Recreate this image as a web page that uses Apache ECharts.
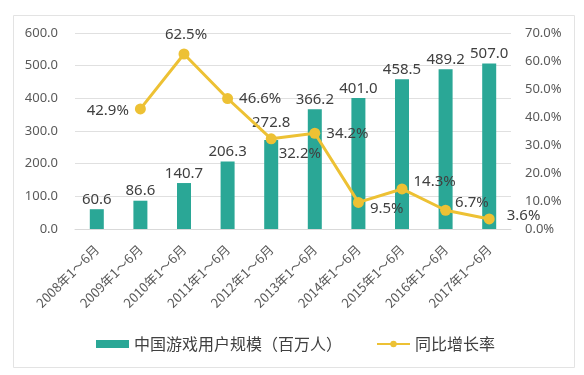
<!DOCTYPE html>
<html>
<head>
<meta charset="utf-8">
<script src="https://cdn.jsdelivr.net/npm/echarts@6/dist/echarts.min.js"></script>
<style>
html,body{margin:0;padding:0;background:#fff;}
#c{width:584px;height:375px;}
</style>
</head>
<body>
<div id="c"></div>
<script>
var categories = ['2008年1～6月','2009年1～6月','2010年1～6月','2011年1～6月','2012年1～6月','2013年1～6月','2014年1～6月','2015年1～6月','2016年1～6月','2017年1～6月'];
var users = [60.6, 86.6, 140.7, 206.3, 272.8, 366.2, 401.0, 458.5, 489.2, 507.0];
var growth = [null, 42.9, 62.5, 46.6, 32.2, 34.2, 9.5, 14.3, 6.7, 3.6];
var leftTicks = [0, 600, 100];
var rightTicks = [0, 70, 10];
var seriesNames = ['中国游戏用户规模（百万人）', '同比增长率'];

// label placement for the growth line (layout only)
var growthLabelPos = [null, ['left',[0,2]], ['top',[2,0]], ['right',[0,0]], ['right',[-4,15]], ['right',[0,0]], ['right',[0,6]], ['right',[0,-7]], ['right',[-2,-8]], ['right',[6,-3]]];
var barLabelDist = [2, 2, 2, 2, 10, 2, 2, 2, 2, 2];

var font = '"Noto Sans","Noto Sans CJK SC",sans-serif';
var barColor = '#2AA796';
var lineColor = '#EDC134';

var chart = echarts.init(document.getElementById('c'), null, {renderer:'canvas'});

var barData = users.map(function(v,i){
  return {value:v, label:{distance:barLabelDist[i]}};
});
var lineData = growth.map(function(v,i){
  if (v === null) return null;
  var p = growthLabelPos[i];
  return {value:v, label:{position:p[0], offset:p[1]}};
});

chart.setOption({
  backgroundColor:'#ffffff',
  animation:false,
  textStyle:{fontFamily:font},
  graphic:[{
    type:'rect', shape:{x:13.5,y:15.5,width:561,height:352},
    style:{fill:'none', stroke:'#E3E3E3', lineWidth:1}, silent:true, z:-1
  }],
  grid:{left:75, right:73, top:33, bottom:146},
  legend:{
    left:91, top:331, itemWidth:33, itemHeight:8, itemGap:34,
    textStyle:{fontSize:16, color:'#404040', fontFamily:'"Noto Sans CJK SC",sans-serif'},
    data:[{name:seriesNames[0], icon:'rect'}, {name:seriesNames[1]}]
  },
  xAxis:{
    type:'category', data:categories,
    axisLine:{lineStyle:{color:'#D9D9D9'}},
    axisTick:{show:false},
    axisLabel:{rotate:45, margin:18, fontSize:13, color:'#595959', interval:0, fontFamily:'"Noto Sans CJK SC",sans-serif'}
  },
  yAxis:[{
    type:'value', min:leftTicks[0], max:leftTicks[1], interval:leftTicks[2],
    axisLine:{show:false}, axisTick:{show:false},
    splitLine:{lineStyle:{color:'#E0E0E0'}},
    axisLabel:{margin:17, fontSize:13, color:'#595959', formatter:function(v){return v.toFixed(1);}}
  },{
    type:'value', min:rightTicks[0], max:rightTicks[1], interval:rightTicks[2],
    axisLine:{show:false}, axisTick:{show:false}, splitLine:{show:false},
    axisLabel:{margin:14, fontSize:13, color:'#595959', formatter:function(v){return v.toFixed(1)+'%';}}
  }],
  series:[{
    name:seriesNames[0], type:'bar', data:barData, barWidth:14,
    itemStyle:{color:barColor},
    label:{show:true, position:'top', fontSize:15, color:'#404040', formatter:function(p){return p.value.toFixed(1);}}
  },{
    name:seriesNames[1], type:'line', yAxisIndex:1, data:lineData,
    connectNulls:false,
    symbol:'circle', symbolSize:11,
    lineStyle:{color:lineColor, width:3},
    itemStyle:{color:lineColor},
    label:{show:true, fontSize:15, color:'#404040', distance:6, formatter:function(p){return p.value.toFixed(1)+'%';}}
  }]
});
</script>
</body>
</html>
